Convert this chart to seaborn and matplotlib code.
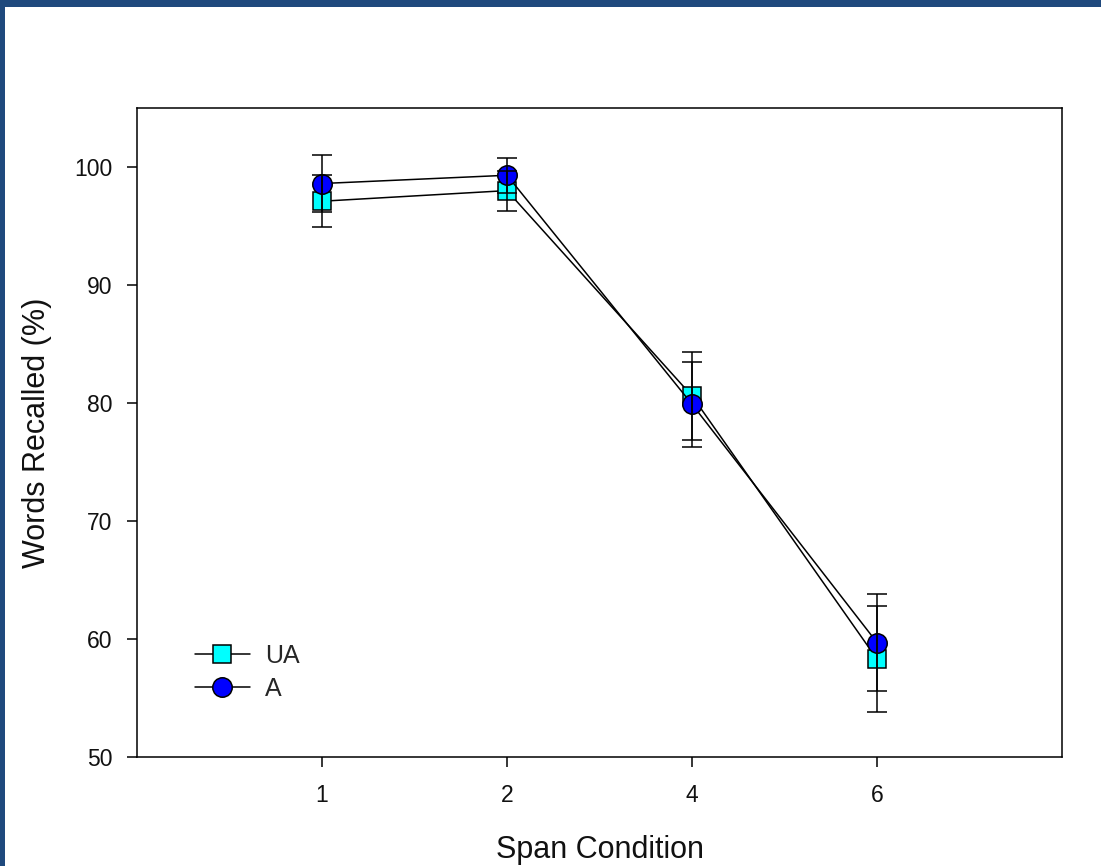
import matplotlib
matplotlib.use("Agg")
import matplotlib.pyplot as plt
import seaborn as sns
import pandas as pd
import numpy as np
from matplotlib.patches import Rectangle

# ---- data ----
span_labels = ["1", "2", "4", "6"]
ua_mean = [97.1, 98.0, 80.6, 58.3]
ua_err = [2.2, 1.7, 3.7, 4.5]
a_mean = [98.6, 99.3, 79.9, 59.7]
a_err = [2.4, 1.5, 3.6, 4.1]

sns.set_theme(style="white")
plt.rcParams['font.family'] = ['Liberation Sans', 'DejaVu Sans']

pos = list(range(len(span_labels)))
df = pd.DataFrame({
    "pos": pos * 2,
    "val": ua_mean + a_mean,
    "err": ua_err + a_err,
    "group": ["UA"] * len(pos) + ["A"] * len(pos),
})

fig = plt.figure(figsize=(11.01, 8.66), dpi=100)
ax = fig.add_axes([137/1101, 1-757/866, (1062-137)/1101, (757-108)/866])

styles = {"UA": dict(marker="s", markerfacecolor="#00FFFF", markersize=12.5, z=3),
          "A": dict(marker="o", markerfacecolor="#0000FF", markersize=14, z=4)}

for g in ["UA", "A"]:
    sub = df[df["group"] == g]
    st = styles[g]
    sns.lineplot(data=sub, x="pos", y="val", ax=ax, color="black", linewidth=1.1,
                 marker=st["marker"], markerfacecolor=st["markerfacecolor"],
                 markeredgecolor="black", markeredgewidth=1.1,
                 markersize=st["markersize"], label=g, zorder=st["z"])
    ax.errorbar(sub["pos"], sub["val"], yerr=sub["err"], fmt="none",
                ecolor="black", elinewidth=1.1, capsize=7, capthick=1.1, zorder=5)

ax.set_xlim(-1, 4)
ax.set_ylim(50, 105)
ax.set_xticks(pos)
ax.set_xticklabels(span_labels)
ax.set_yticks([50, 60, 70, 80, 90, 100])
ax.tick_params(axis="both", direction="out", length=7.5, width=1.1, color="black",
               labelsize=16.5, labelcolor="#111111", bottom=True, left=True)
ax.tick_params(axis="y", pad=10)
ax.tick_params(axis="x", pad=12)
for s in ax.spines.values():
    s.set_color("black")
    s.set_linewidth(1.1)

ax.set_xlabel("Span Condition", fontsize=22, color="#111111", labelpad=20)
ax.set_ylabel("Words Recalled (%)", fontsize=22, color="#111111", labelpad=16)

leg = ax.legend(loc="lower left", bbox_to_anchor=(0.038, 0.052), frameon=False,
                fontsize=18, handlelength=2.2, handletextpad=0.6, labelspacing=0.35,
                numpoints=1)

# dark blue frame on top/left edges
border = "#1F497D"
fig.patches.append(Rectangle((0, 1-7/866), 1, 7/866, transform=fig.transFigure,
                             facecolor=border, edgecolor="none", zorder=10))
fig.patches.append(Rectangle((0, 0), 5/1101, 1, transform=fig.transFigure,
                             facecolor=border, edgecolor="none", zorder=10))

fig.savefig("out.png", dpi=100)
